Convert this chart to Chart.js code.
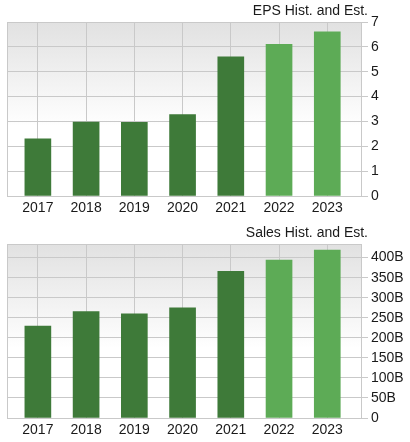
<!DOCTYPE html>
<html>
<head>
<meta charset="utf-8">
<script src="https://cdn.jsdelivr.net/npm/chart.js@4"></script>
<style>
  body { margin: 0; background: #fff; }
  .box { position: absolute; left: 0; width: 410px; height: 220px; }
</style>
</head>
<body>
<div class="box" style="top:0"><canvas id="eps" width="410" height="220"></canvas></div>
<div class="box" style="top:222px"><canvas id="sales" width="410" height="220"></canvas></div>
<script>
const years = ["2017", "2018", "2019", "2020", "2021", "2022", "2023"];
const isEstimate = [false, false, false, false, false, true, true];
const epsValues = [2.3, 2.97, 2.96, 3.28, 5.6, 6.1, 6.6];
const salesValues = [229, 265.5, 260, 274.5, 365.8, 394, 419];
const epsTicks = [0, 1, 2, 3, 4, 5, 6, 7];
const salesTicks = [0, 50, 100, 150, 200, 250, 300, 350, 400];

Chart.defaults.font.family = "'Liberation Sans', Arial, sans-serif";
Chart.defaults.font.size = 14;
Chart.defaults.color = "#1a1a1a";

const GRID = "#c9c9c9";

const plotBackground = {
  id: "plotBackground",
  beforeDatasetsDraw: (chart) => {
    const { ctx, chartArea } = chart;
    const { left, top, right, bottom } = chartArea;
    const gradient = ctx.createLinearGradient(0, top, 0, bottom);
    gradient.addColorStop(0, "#e1e1e1");
    gradient.addColorStop(0.6, "#ffffff");
    ctx.save();
    ctx.globalCompositeOperation = "destination-over";
    ctx.fillStyle = gradient;
    ctx.fillRect(left, top, right - left, bottom - top);
    ctx.restore();
    ctx.save();
    ctx.strokeStyle = GRID;
    ctx.lineWidth = 1;
    ctx.strokeRect(left + 0.5, top + 0.5, right - left - 1, bottom - top);
    ctx.restore();
  },
};

const cornerTitle = {
  id: "cornerTitle",
  afterDraw: (chart, _args, options) => {
    const { ctx } = chart;
    ctx.save();
    ctx.font = "14px 'Liberation Sans', Arial, sans-serif";
    ctx.fillStyle = "#1a1a1a";
    ctx.textAlign = "right";
    ctx.textBaseline = "alphabetic";
    ctx.fillText(options.text, 368, 15);
    ctx.restore();
  },
};

function makeChart(id, title, values, ticks, yMax, format) {
  const colors = isEstimate.map((e) => (e ? "#5dab56" : "#3e7a39"));
  new Chart(document.getElementById(id), {
    type: "bar",
    data: {
      datasets: [
        {
          data: values.map((v, i) => ({ x: i, y: v })),
          backgroundColor: colors,
          borderWidth: 0,
          barThickness: 26,
        },
      ],
    },
    plugins: [plotBackground, cornerTitle],
    options: {
      responsive: false,
      animation: false,
      layout: { padding: { left: 7, top: 22, right: 0, bottom: 0 } },
      plugins: {
        legend: { display: false },
        tooltip: { enabled: false },
        cornerTitle: { text: title },
      },
      scales: {
        x: {
          type: "linear",
          offset: false,
          min: -0.64,
          max: 6.72,
          afterFit: (scale) => {
            scale.height = 24;
          },
          afterBuildTicks: (scale) => {
            scale.ticks = years.map((_, i) => ({ value: i }));
          },
          border: { display: false },
          grid: { color: GRID, drawTicks: false, offset: false },
          ticks: {
            padding: 4,
            callback: (v) => years[v],
          },
        },
        y: {
          position: "right",
          min: 0,
          max: yMax,
          afterFit: (scale) => {
            scale.width = 48;
          },
          afterBuildTicks: (scale) => {
            scale.ticks = ticks.map((v) => ({ value: v }));
          },
          border: { display: false },
          grid: { color: GRID, tickLength: 6 },
          ticks: {
            padding: 3,
            callback: format,
          },
        },
      },
    },
  });
}

makeChart("eps", "EPS Hist. and Est.", epsValues, epsTicks, 7, (v) => String(v));
makeChart("sales", "Sales Hist. and Est.", salesValues, salesTicks, 434, (v) => (v === 0 ? "0" : v + "B"));
</script>
</body>
</html>
